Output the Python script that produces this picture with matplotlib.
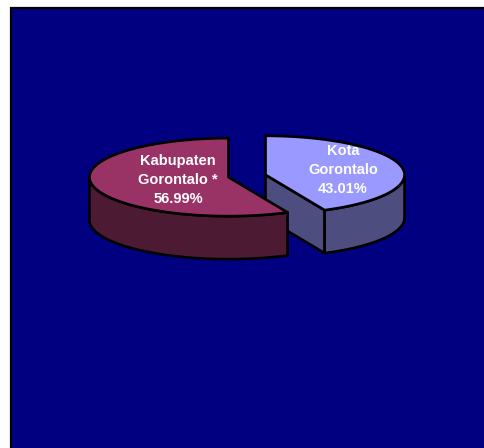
import matplotlib.pyplot as plt
import numpy as np
from matplotlib.patches import Polygon, Rectangle

# pie data
labels = ["Kota\nGorontalo\n43.01%", "Kabupaten\nGorontalo *\n56.99%"]
shares = [43.01, 56.99]
top_colors = ["#9999FF", "#993366"]
side_colors = ["#4D4D80", "#4D1A33"]
label_radius = [0.57, 0.37]

# geometry in pixels (y grows downwards)
CX, CY = 247, 176
RX, RY = 139, 39
DEPTH = 43
EXPLODE = 19
EDGE_LW = 1.9


def ellipse_pts(cx, cy, a0, a1, n=120):
    t = np.radians(np.linspace(a0, a1, n))
    return np.column_stack([cx + RX * np.cos(t), cy - RY * np.sin(t)])


def draw_slice(ax, a0, a1, top, side, label, lab_r):
    mid = np.radians((a0 + a1) / 2)
    cx = CX + EXPLODE * np.cos(mid)
    cy = CY - EXPLODE * np.sin(mid) * RY / RX
    style = dict(edgecolor="black", linewidth=EDGE_LW, joinstyle="round")

    # cut faces that look toward the viewer
    for edge, normal in ((a0, a0 - 90), (a1, a1 + 90)):
        if np.sin(np.radians(normal)) < -1e-6:
            p = ellipse_pts(cx, cy, edge, edge, 1)[0]
            face = [(cx, cy), tuple(p), (p[0], p[1] + DEPTH), (cx, cy + DEPTH)]
            ax.add_patch(Polygon(face, closed=True, facecolor=side, **style))

    # outer wall on the front half
    for lo, hi in ((-180, 0), (180, 360)):
        w0, w1 = max(a0, lo), min(a1, hi)
        if w1 > w0:
            arc = ellipse_pts(cx, cy, w0, w1)
            wall = np.vstack([arc, (arc + [0, DEPTH])[::-1]])
            ax.add_patch(Polygon(wall, closed=True, facecolor=side, **style))

    # top face
    arc = ellipse_pts(cx, cy, a0, a1)
    ax.add_patch(Polygon(np.vstack([[cx, cy], arc]), closed=True, facecolor=top, **style))

    lx = cx + lab_r * RX * np.cos(mid)
    ly = cy - lab_r * RY * np.sin(mid)
    ax.text(lx, ly, label, ha="center", va="center", ma="center", color="white",
            fontsize=10.5, fontweight="bold", family="Liberation Sans", linespacing=1.45)


fig = plt.figure(figsize=(4.85, 4.48), dpi=100)
ax = fig.add_axes([0, 0, 1, 1])
ax.set_xlim(0, 485)
ax.set_ylim(448, 0)
ax.axis("off")

ax.add_patch(Rectangle((11.5, 8.5), 600, 600, facecolor="#000080",
                       edgecolor="black", linewidth=1.6))

# angles counter-clockwise: Kota runs clockwise from 12 o'clock, Kabupaten fills the rest
kota_span = 360 * shares[0] / sum(shares)
spans = [(90.0 - kota_span, 90.0), (90.0, 90.0 + 360 * shares[1] / sum(shares))]

order = sorted(range(len(shares)), key=lambda i: np.sin(np.radians(sum(spans[i]) / 2)), reverse=True)
for i in order:
    draw_slice(ax, spans[i][0], spans[i][1], top_colors[i], side_colors[i], labels[i], label_radius[i])

fig.savefig("out.png", dpi=100)
